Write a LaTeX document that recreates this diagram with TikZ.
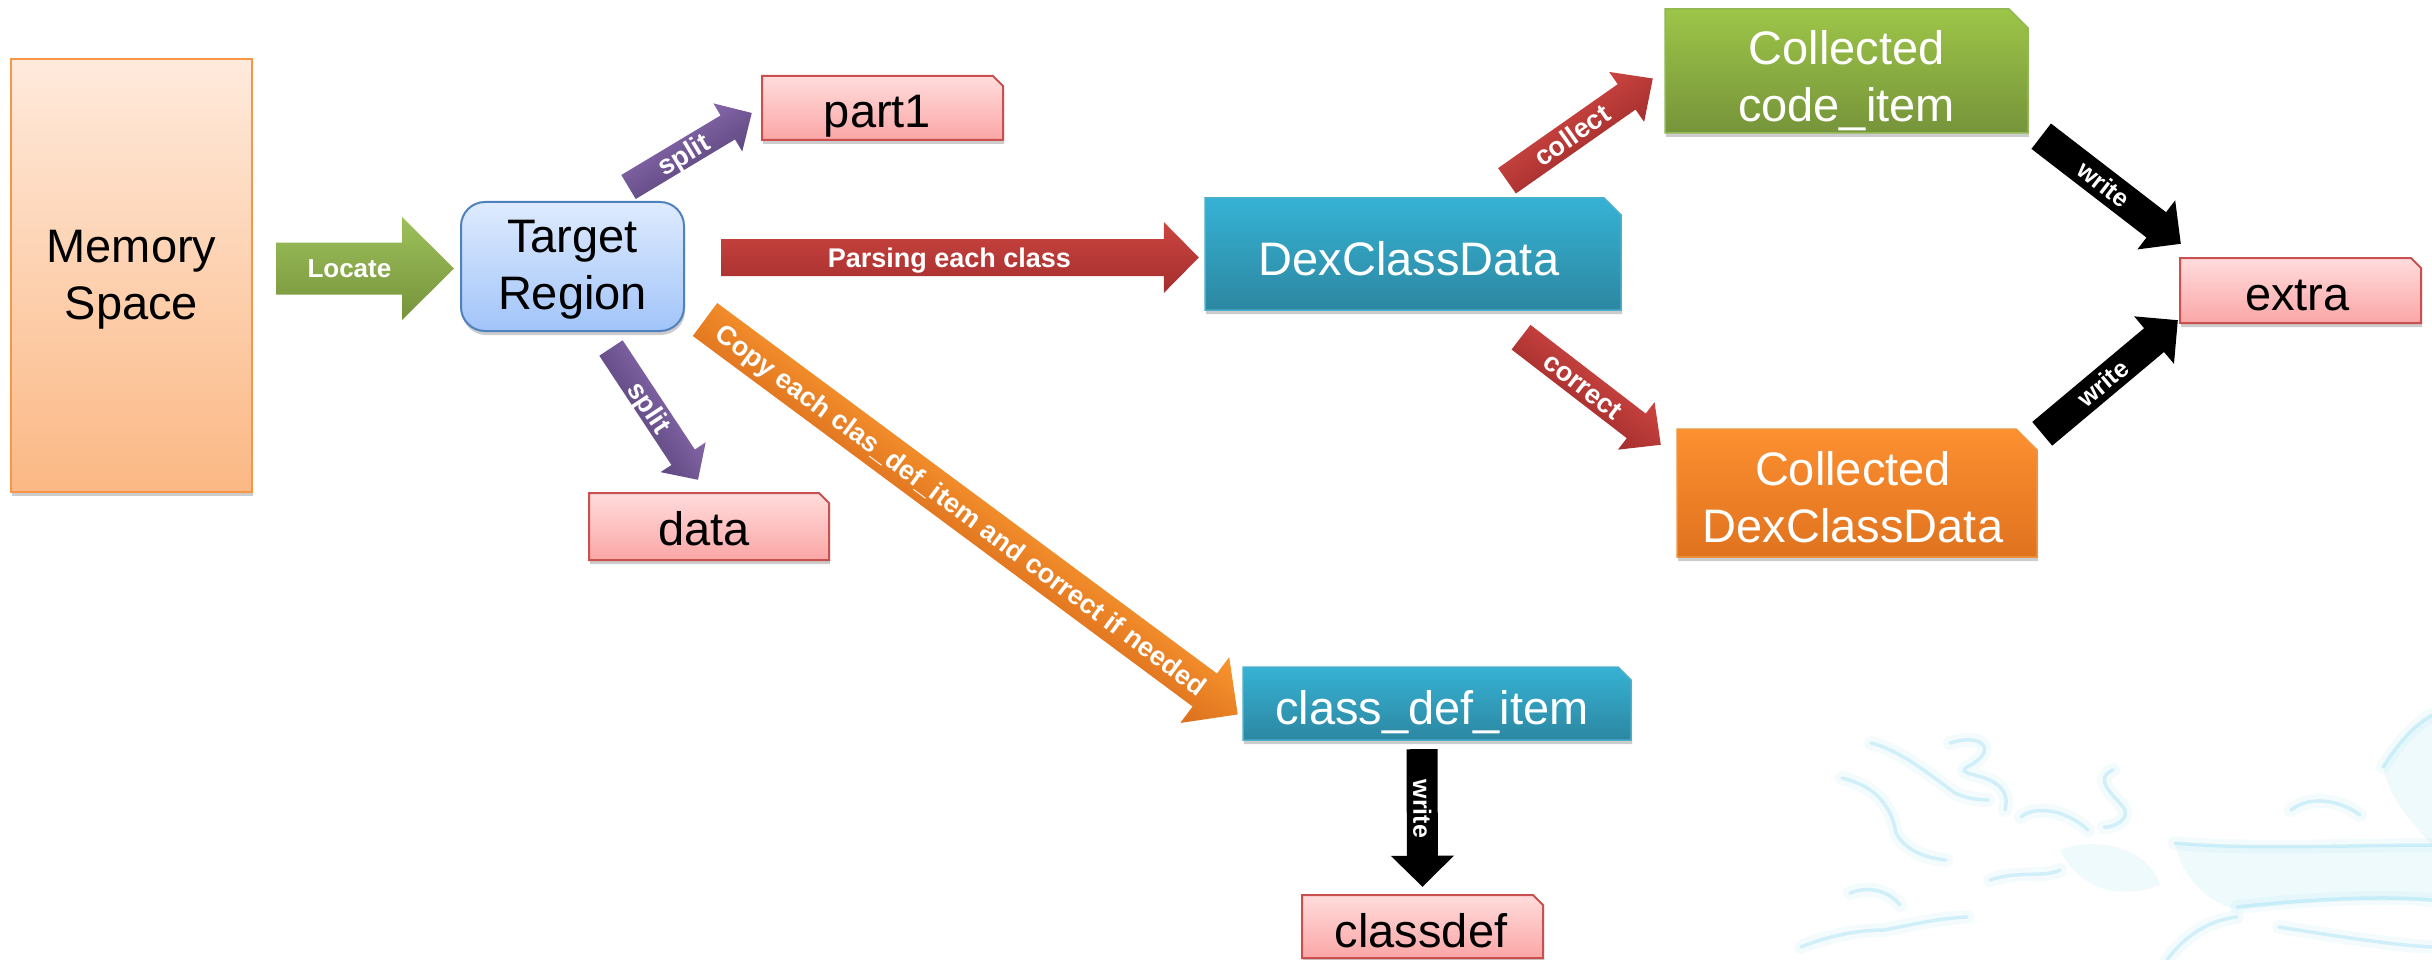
\documentclass[tikz,border=0pt]{standalone}
\usepackage{fontspec}
\setmainfont{Liberation Sans}
\usetikzlibrary{calc,fit,shadows}

\definecolor{pinkTop}{HTML}{FFDCDC}
\definecolor{pinkBot}{HTML}{FBA6A6}
\definecolor{pinkLine}{HTML}{C9504E}
\definecolor{tealTop}{HTML}{36B2D4}
\definecolor{tealBot}{HTML}{2C87A1}
\definecolor{tealLine}{HTML}{4BAFCB}
\definecolor{greenTop}{HTML}{9DC548}
\definecolor{greenBot}{HTML}{76943A}
\definecolor{greenLine}{HTML}{92B853}
\definecolor{orTop}{HTML}{FD9030}
\definecolor{orBot}{HTML}{DF721E}
\definecolor{orLine}{HTML}{F0953F}
\definecolor{memTop}{HTML}{FFEADC}
\definecolor{memBot}{HTML}{FBB884}
\definecolor{memLine}{HTML}{F79646}
\definecolor{regTop}{HTML}{DEEBFE}
\definecolor{regBot}{HTML}{A2C4F9}
\definecolor{regLine}{HTML}{4F81BD}
\definecolor{arGreenTop}{HTML}{9DC05A}
\definecolor{arGreenBot}{HTML}{76933C}
\definecolor{arRedTop}{HTML}{CC4540}
\definecolor{arRedBot}{HTML}{A32E2E}
\definecolor{arPurTop}{HTML}{8466A8}
\definecolor{arPurBot}{HTML}{5E4880}
\definecolor{arOrTop}{HTML}{F9962F}
\definecolor{arOrBot}{HTML}{DB6E1C}
\definecolor{dragon}{HTML}{7FD6F2}

% box with the upper right corner cut off
% #1 name, #2 upper left corner, #3 lower right corner, #4 size of the cut, #5 style
\newcommand\snipbox[5]{%
  \coordinate (#1-tl) at (#2);
  \coordinate (#1-br) at (#3);
  \path[#5] (#1-tl) -- ($(#1-tl -| #1-br)+(-#4,0)$) -- ($(#1-tl -| #1-br)+(0,#4)$)
     -- (#1-br) -- (#1-tl |- #1-br) -- cycle;
  \node[fit=(#1-tl)(#1-br), inner sep=0pt] (#1) {};
}

% wide block arrow with a label along its shaft
% #1 tail, #2 tip, #3 shaft half width, #4 head half width, #5 head length,
% #6 fill style, #7 label name, #8 label, #9 label size
\newcommand\blockarrow[9]{%
  \path let \p1=(#1), \p2=(#2) in \pgfextra{%
    \pgfmathsetmacro\BAtmpA{atan2(\y2-\y1,\x2-\x1)}%
    \pgfmathsetmacro\BAtmpL{veclen(\x2-\x1,\y2-\y1)}%
    \xdef\BAang{\BAtmpA}\xdef\BAlen{\BAtmpL}};
  \pgfmathsetmacro\BAbase{\BAlen-#5}%
  \pgfmathsetmacro\BAmid{(\BAlen-0.6*#5)/2}%
  \pgfmathsetmacro\BAdrop{-0.358*#9}%
  \begin{scope}[transform canvas={shift={(#1)}, rotate=\BAang}]
    \path[#6] (0pt,#3pt) -- (\BAbase pt,#3pt) -- (\BAbase pt,#4pt) -- (\BAlen pt,0pt)
      -- (\BAbase pt,-#4pt) -- (\BAbase pt,-#3pt) -- (0pt,-#3pt) -- cycle;
    \node[arrowlabel, anchor=base, font={\fontsize{#9}{#9}\selectfont\bfseries}]
      (#7) at (\BAmid pt,\BAdrop pt) {#8};
  \end{scope}
}

\begin{document}
\begin{tikzpicture}[x=1pt, y=-1pt,
  boxshadow/.style={drop shadow={shadow xshift=1pt, shadow yshift=-4pt, opacity=0.2, fill=black}},
  pinkbox/.style={top color=pinkTop, bottom color=pinkBot, draw=pinkLine, line width=2pt, boxshadow},
  tealbox/.style={top color=tealTop, bottom color=tealBot, draw=tealLine, line width=1.5pt, boxshadow},
  greenbox/.style={top color=greenTop, bottom color=greenBot, draw=greenLine, line width=1.5pt, boxshadow},
  orangebox/.style={top color=orTop, bottom color=orBot, draw=orLine, line width=1.5pt, boxshadow},
  memstyle/.style={rectangle, top color=memTop, bottom color=memBot, draw=memLine, line width=2pt, boxshadow},
  regionstyle/.style={rectangle, rounded corners=24pt, top color=regTop, bottom color=regBot, draw=regLine, line width=2pt, boxshadow},
  boxtext/.style={font=\fontsize{47}{57}\selectfont, align=center, inner sep=0pt},
  whitetext/.style={boxtext, text=white},
  arrowlabel/.style={text=white, inner sep=0pt},
  greenarrow/.style={top color=arGreenTop, bottom color=arGreenBot},
  redarrow/.style={top color=arRedTop, bottom color=arRedBot},
  purplearrow/.style={top color=arPurTop, bottom color=arPurBot},
  orangearrow/.style={top color=arOrTop, bottom color=arOrBot},
  blackarrow/.style={fill=black},
  dragonglow/.style={draw=dragon, line width=14pt, opacity=0.08, line cap=round, line join=round},
  dragonline/.style={draw=dragon, line width=3.5pt, opacity=0.3, line cap=round, line join=round},
  dragonmass/.style={fill=dragon, opacity=0.12},
]
\useasboundingbox[fill=white] (0,0) rectangle (2432,960);

% faint dragon ornament in the lower right corner
\fill[dragonmass] (2060,850) .. controls (2100,835) and (2150,850) .. (2160,885)
  .. controls (2120,900) and (2080,890) .. cycle;
\fill[dragonmass] (2175,843) .. controls (2250,850) and (2350,845) .. (2432,845)
  -- (2432,902) .. controls (2350,898) and (2280,905) .. (2237,910)
  .. controls (2200,900) and (2180,870) .. cycle;
\fill[dragonmass] (2383,767) .. controls (2400,740) and (2415,725) .. (2432,715)
  -- (2432,845) .. controls (2410,820) and (2390,800) .. cycle;
\foreach \ds in {dragonglow,dragonline} {
  \draw[\ds] (1871,743) .. controls (1900,750) and (1930,775) .. (1955,793)
                        .. controls (1965,798) and (1978,800) .. (1988,800);
  \draw[\ds] (1842,778) .. controls (1870,785) and (1890,800) .. (1896,833)
                        .. controls (1905,850) and (1925,858) .. (1946,860);
  \draw[\ds] (1950,743) .. controls (1985,732) and (1998,752) .. (1967,767)
                        .. controls (1950,778) and (2015,770) .. (2005,810);
  \draw[\ds] (2113,770) .. controls (2090,780) and (2120,800) .. (2125,810)
                        .. controls (2128,822) and (2110,828) .. (2104,827);
  \draw[\ds] (2021,817) .. controls (2030,808) and (2060,805) .. (2088,830);
  \draw[\ds] (2175,843) .. controls (2250,850) and (2350,845) .. (2432,845);
  \draw[\ds] (2237,907) .. controls (2300,900) and (2380,895) .. (2432,900);
  \draw[\ds] (2291,810) .. controls (2310,795) and (2340,800) .. (2360,815);
  \draw[\ds] (2383,767) .. controls (2400,740) and (2415,725) .. (2432,715);
  \draw[\ds] (1801,947) .. controls (1830,935) and (1860,930) .. (1884,930)
                        .. controls (1910,925) and (1940,918) .. (1967,917);
  \draw[\ds] (2167,960) .. controls (2185,935) and (2210,920) .. (2237,917);
  \draw[\ds] (2279,927) .. controls (2330,935) and (2390,945) .. (2432,947);
  \draw[\ds] (1850,893) .. controls (1870,885) and (1890,892) .. (1900,905);
  \draw[\ds] (1990,880) .. controls (2020,870) and (2045,878) .. (2060,870);
}

% boxes
\node[memstyle, minimum width=241pt, minimum height=433pt, inner sep=0pt] (mem) at (131.5,275.5) {};
\node[boxtext] (mem-t) at ($(mem.center)+(0,4)$) {Memory\\Space};

\node[regionstyle, minimum width=223pt, minimum height=129pt, inner sep=0pt] (tr) at (572.5,266.5) {};
\node[boxtext] (tr-t) at ($(tr.center)+(0,3)$) {Target\\Region};

\snipbox{part1}{762,76}{1003,140}{10}{pinkbox}
\node[boxtext, anchor=base] (part1-t) at ($(part1.center)+(-5,20)$) {part1};

\snipbox{data}{589,493}{829,560}{10}{pinkbox}
\node[boxtext, anchor=base] (data-t) at ($(data.center)+(-5,18.5)$) {data};

\snipbox{dex}{1205,198}{1621,310}{17}{tealbox}
\node[whitetext, anchor=base] (dex-t) at ($(dex.center)+(-4,21.5)$) {DexClassData};

\snipbox{cci}{1665,9}{2028,133}{19}{greenbox}
\node[whitetext] (cci-t) at ($(cci.center)+(0,10)$) {Collected\\code\_item};

\snipbox{cdd}{1677,429}{2037,557}{21}{orangebox}
\node[whitetext] (cdd-t) at ($(cdd.center)+(-4,4.6)$) {Collected\\DexClassData};

\snipbox{extra}{2180,258}{2421,323}{10}{pinkbox}
\node[boxtext, anchor=base] (extra-t) at ($(extra.center)+(-3,19.5)$) {extra};

\snipbox{cdi}{1243,667}{1631,740}{13}{tealbox}
\node[whitetext, anchor=base] (cdi-t) at ($(cdi.center)+(-5,20.5)$) {class\_def\_item};

\snipbox{classdef}{1302,895}{1543,958}{10}{pinkbox}
\node[boxtext, anchor=base] (classdef-t) at ($(classdef-tl)+(119,52)$) {classdef};

% connectors
\coordinate (locA) at ($(mem.east)+(23,-7)$);
\coordinate (locB) at ($(tr.west)+(-6,2)$);
\blockarrow{locA}{locB}{26}{51.5}{52}{greenarrow}{locate-l}{Locate}{26}

\coordinate (parA) at ($(tr.east)+(36,-9)$);
\coordinate (parB) at ($(dex.west)+(-6,3.5)$);
\blockarrow{parA}{parB}{18.5}{35.5}{35}{redarrow}{parse-l}{Parsing each class}{27}

\coordinate (spuA) at ($(tr.north)+(56,-14)$);
\coordinate (spuB) at ($(part1.west)+(-10,5)$);
\blockarrow{spuA}{spuB}{14}{28}{28}{purplearrow}{splitup-l}{split}{27}

\coordinate (spdA) at ($(tr.south)+(38.5,16)$);
\coordinate (spdB) at ($(data.north)+(-11,-13)$);
\blockarrow{spdA}{spdB}{14}{27}{27}{purplearrow}{splitdown-l}{split}{27}

\coordinate (cpyA) at ($(tr.south east)+(20,-12.5)$);
\coordinate (cpyB) at ($(cdi.west)+(-5,11)$);
\blockarrow{cpyA}{cpyB}{20.5}{41}{41}{orangearrow}{copy-l}{Copy each clas\_def\_item and correct if needed}{27}

\coordinate (colA) at ($(dex.north)+(94,-17)$);
\coordinate (colB) at ($(cci.west)+(-12,7.5)$);
\blockarrow{colA}{colB}{15.5}{30.5}{32}{redarrow}{collect-l}{collect}{27}

\coordinate (corA) at ($(dex.south)+(108,27)$);
\coordinate (corB) at ($(cdd.north west)+(-16,16)$);
\blockarrow{corA}{corB}{15.5}{30}{31}{redarrow}{correct-l}{correct}{27}

\coordinate (wr1A) at ($(cci.south east)+(13,3)$);
\coordinate (wr1B) at ($(extra.north west)+(1,-14)$);
\blockarrow{wr1A}{wr1B}{16}{31}{31}{blackarrow}{write1-l}{write}{25}

\coordinate (wr2A) at ($(cdd.north east)+(5,5)$);
\coordinate (wr2B) at ($(extra.south west)+(-2,-3)$);
\blockarrow{wr2A}{wr2B}{15.5}{31}{31}{blackarrow}{write2-l}{write}{25}

\coordinate (wr3A) at ($(cdi.south)+(-15,9)$);
\coordinate (wr3B) at ($(classdef.north)+(0,-8)$);
\blockarrow{wr3A}{wr3B}{15.5}{31.5}{31}{blackarrow}{write3-l}{write}{25}
\end{tikzpicture}
\end{document}
